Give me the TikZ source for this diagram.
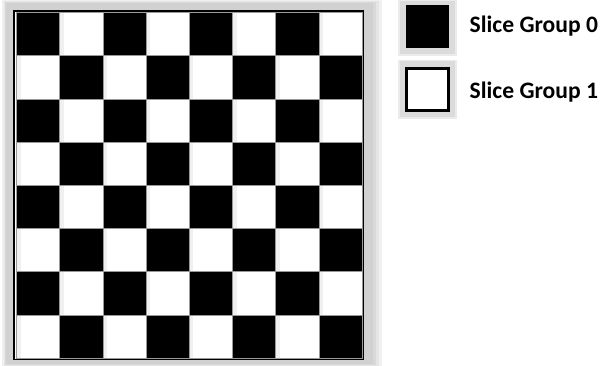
\documentclass[tikz,border=0pt]{standalone}
\usepackage{fontspec}
\setmainfont{Carlito}
\begin{document}
\begin{tikzpicture}[x=1pt,y=-1pt,
  cellline/.style={draw=black!40,line width=0.6pt},
  legendtext/.style={anchor=base west,inner sep=0pt,font=\fontsize{23.6}{28}\selectfont\bfseries}]
\useasboundingbox (0,0) rectangle (603,366);
% board frame with soft shadow
\fill[black!6] (2,0) rectangle (382,366);
\fill[black!10] (3.5,1) rectangle (379,366);
\fill[black!15] (5,2) rectangle (376,365);
\fill[black!18] (6,3) rectangle (373,364);
\fill[white] (13,10) rectangle (364,360);
\draw[black,line width=1.6pt] (13.8,10.8) -- (363.5,10.8) -- (363.5,359.5) -- (13.8,359.5) -- cycle;
% cells
\foreach \r in {0,...,7}{
  \foreach \c in {0,...,7}{
    \pgfmathtruncatemacro{\myparity}{mod(\r+\c,2)}
    \ifnum\myparity=0
      \fill[black] (16.5+43.2*\c,12.5+43.2*\r) rectangle ++(43.2,43.2);
    \else
      \fill[white] (16.5+43.2*\c,12.5+43.2*\r) rectangle ++(43.2,43.2);
      \fill[black!6] (16.5+43.2*\c,12.5+43.2*\r) rectangle ++(4,43.2);
    \fi
    \draw[cellline] (16.5+43.2*\c,12.5+43.2*\r) rectangle ++(43.2,43.2);
  }
}
% legend
\fill[black!8] (398,0) rectangle (457,56);
\fill[black!14] (400,1) rectangle (455,54);
\fill[black] (406,5) rectangle (449,48);
\fill[black!8] (398,60) rectangle (457,119);
\fill[black!14] (400,61) rectangle (455,117);
\fill[white] (405,67) rectangle (450,112);
\draw[black,line width=3pt] (406.5,68.5) rectangle (448.5,110.5);
\node[legendtext] (g0) at (469.5,32.7) {Slice Group 0};
\node[legendtext] (g1) at (469.5,98.3) {Slice Group 1};
\end{tikzpicture}
\end{document}
